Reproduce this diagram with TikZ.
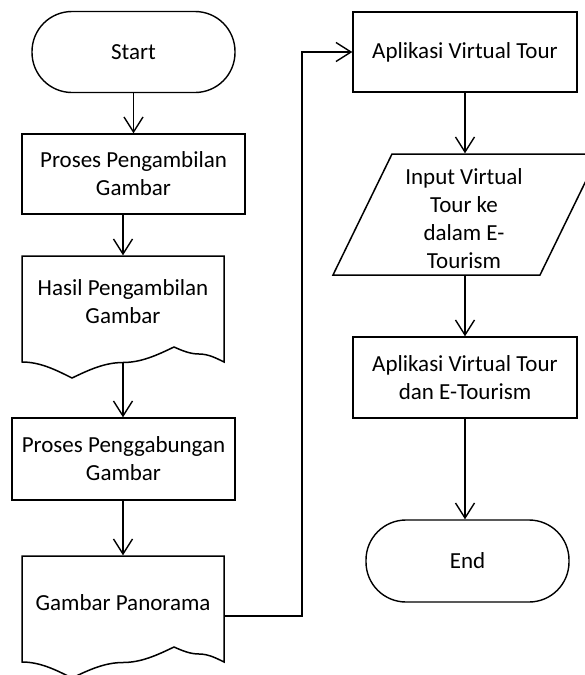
\documentclass[tikz,border=0pt]{standalone}
\usepackage{fontspec}
\setmainfont{Carlito}
\usetikzlibrary{arrows.meta}
\begin{document}
\begin{tikzpicture}[x=1pt,y=-1pt,
  line width=1.4pt,
  every node/.style={font=\fontsize{23}{28}\selectfont, align=center, inner sep=0pt},
  procbox/.style={draw, rectangle, minimum width=#1, minimum height=80pt},
  term/.style={draw, rectangle, rounded corners=40pt, minimum width=203pt, minimum height=81pt},
  ghost/.style={rectangle, minimum width=#1},
  docline/.style={draw, line width=1.5pt, line join=miter},
  flow/.style={-{Straight Barb[length=15pt,width=19pt,line width=1.4pt]}}
]
\useasboundingbox (0,0) rectangle (584,675);

% left column
\node[term] (start) at (133.5,52) {Start};
\node[procbox=223pt] (p1) at (133.5,174) {Proses Pengambilan\\Gambar};
\node[ghost=202pt, minimum height=106pt] (hasil) at (123,309) {};
\path[docline] (22,362) -- (22,256) -- (224,256) -- (224,362)
      sin (199,354) cos (174,347) sin (123,362.5) cos (72,378) sin (22,362) -- cycle;
\node (hasiltxt) at (123,302) {Hasil Pengambilan\\Gambar};
\node[procbox=223pt, minimum height=82pt] (p2) at (123.5,459) {Proses Penggabungan\\Gambar};
\node[ghost=202pt, minimum height=106pt] (pano) at (123,609) {};
\path[docline] (22,662) -- (22,556) -- (224,556) -- (224,662)
      sin (199,654) cos (174,647) sin (123,662.5) cos (72,678) sin (22,662) -- cycle;
\node (panotxt) at (123,603) {Gambar Panorama};

% right column
\node[procbox=224pt] (app1) at (465,52) {Aplikasi Virtual Tour};
\node[ghost=266pt, minimum height=121pt] (inp) at (466,214.5) {};
\path[docline] (333,275) -- (392,154) -- (599,154) -- (540,275) -- cycle;
\node (inptxt) at (464,219) {Input Virtual\\Tour ke\\dalam E-\\Tourism};
\node[procbox=224pt, minimum height=81pt] (app2) at (465,377.5) {Aplikasi Virtual Tour\\dan E-Tourism};
\node[term, minimum height=82pt] (end) at (467.5,561) {End};

% connectors
\draw[flow] (start) -- (p1);
\draw[flow] (p1.south -| hasil.north) -- (hasil.north);
\draw[flow] (hasil.south) -- (p2.north -| hasil.south);
\draw[flow] (p2.south -| pano.north) -- (pano.north);
\coordinate (panoout) at ([yshift=-7pt]pano.east);
\coordinate (bend) at (302,616);
\draw[flow] (panoout) -- (bend) |- (app1.west);
\draw[flow] (app1.south) -- (app1.south |- inp.north);
\draw[flow] (app1.south |- inp.south) -- (app2.north);
\draw[flow] (app2.south) -- (end.north -| app2.south);
\end{tikzpicture}
\end{document}
